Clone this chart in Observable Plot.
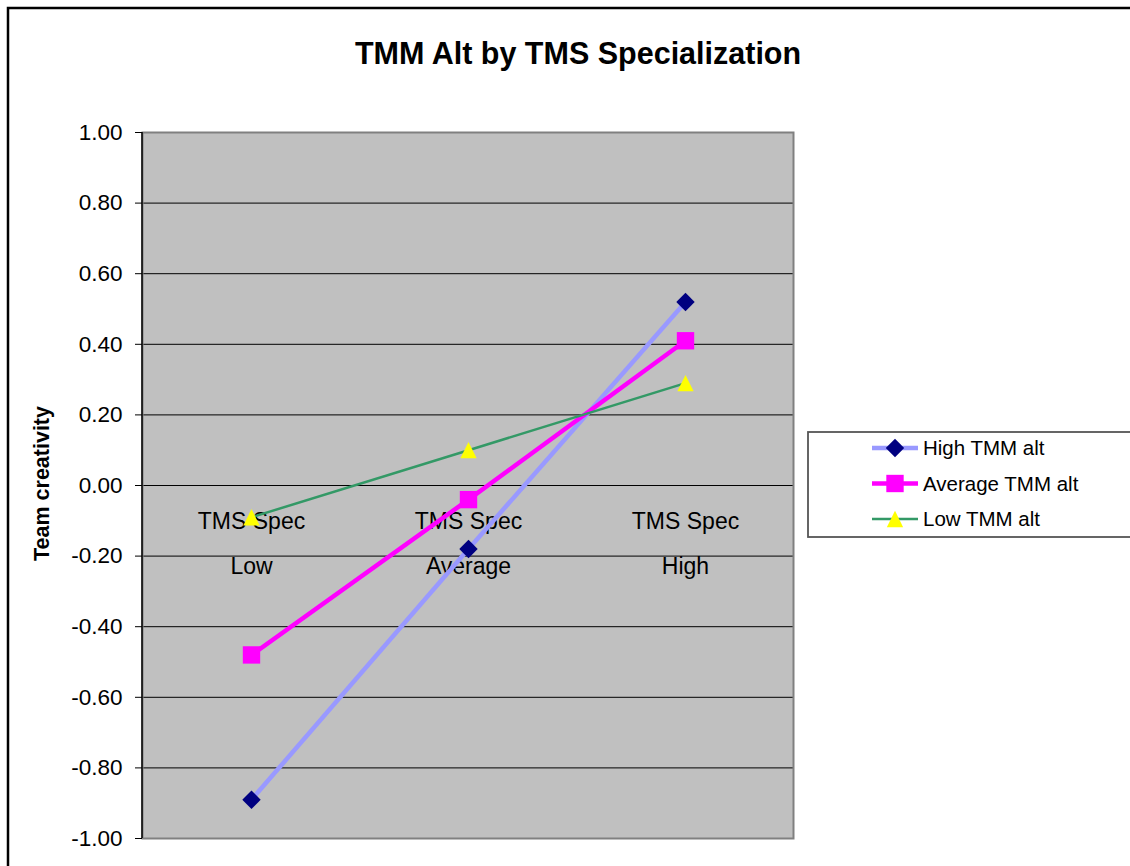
<!DOCTYPE html>
<html><head><meta charset="utf-8">
<script src="https://cdn.jsdelivr.net/npm/d3@7"></script>
<script src="https://cdn.jsdelivr.net/npm/@observablehq/plot@0.6"></script>
<style>body{margin:0;background:#fff}#chart svg{display:block}</style>
</head><body><div id="chart"></div>
<script>
// ---- data ----
const categories = ["Low", "Average", "High"];
const categoryPrefix = "TMS Spec";
const seriesNames = ["High TMM alt", "Average TMM alt", "Low TMM alt"];
const highValues = [-0.89, -0.18, 0.52];
const averageValues = [-0.48, -0.04, 0.41];
const lowValues = [-0.09, 0.10, 0.29];
const yTicks = [-1, -0.8, -0.6, -0.4, -0.2, 0, 0.2, 0.4, 0.6, 0.8, 1];
const titleText = "TMM Alt by TMS Specialization";
const yLabel = "Team creativity";

// ---- styles ----
const FONT = "'Liberation Sans', Arial, Helvetica, sans-serif";
const lineColors = ["#9999FF", "#FF00FF", "#339966"];
const lineWidths = [4.5, 4.5, 2.5];
const markerColors = ["#000080", "#FF00FF", "#FFFF00"];
const triangleSym = {draw(ctx, size) { const h = Math.sqrt(size) / 2; ctx.moveTo(0, -h); ctx.lineTo(h, h); ctx.lineTo(-h, h); ctx.closePath(); }};
const plotSymbols = ["diamond2", "square", triangleSym];
const d3Symbols = [d3.symbolDiamond2, d3.symbolSquare, triangleSym];
const markerR = [8.3, 9.8, 9.2];

const seriesValues = [highValues, averageValues, lowValues];
const table = seriesNames.flatMap((s, i) => categories.map((c, j) => ({series: s, cat: c, value: seriesValues[i][j], idx: i})));

const W = 1130, H = 866;
const mL = 142, mR = W - 793, mT = 132, mB = H - 838;
const fmt = d => (Math.abs(d) < 1e-9 ? 0 : d).toFixed(2);

const marks = [
  Plot.frame({fill: "#C0C0C0"}),
  Plot.ruleY(yTicks.filter(t => t > -1 && t < 1), {stroke: "#000", strokeWidth: 1}),
  Plot.frame({stroke: "#808080", strokeWidth: 2}),
  Plot.axisY({ticks: yTicks, tickFormat: fmt, tickSize: 7, tickPadding: 13, fontSize: 22.5, label: null}),
  Plot.text(categories, {x: d => d, y: () => 0, text: () => categoryPrefix, dy: 36, fontSize: 23, lineAnchor: "middle"}),
  Plot.text(categories, {x: d => d, y: () => 0, text: d => d, dy: 81, fontSize: 23, lineAnchor: "middle"}),
];
seriesNames.forEach((s, i) => {
  const rows = table.filter(r => r.idx === i);
  marks.push(Plot.line(rows, {x: "cat", y: "value", stroke: lineColors[i], strokeWidth: lineWidths[i]}));
});
seriesNames.forEach((s, i) => {
  const rows = table.filter(r => r.idx === i);
  marks.push(Plot.dot(rows, {x: "cat", y: "value", symbol: plotSymbols[i], fill: markerColors[i], stroke: "none", r: markerR[i]}));
});
marks.push(Plot.text([titleText], {frameAnchor: "top", dx: 110, dy: -78, lineAnchor: "middle", fontSize: 30.5, fontWeight: "bold"}));
marks.push(Plot.text([yLabel], {frameAnchor: "left", dx: -100, dy: -2, rotate: -90, textAnchor: "middle", lineAnchor: "middle", fontSize: 21.5, fontWeight: "bold"}));

const plot = Plot.plot({
  width: W, height: H,
  marginLeft: mL, marginRight: mR, marginTop: mT, marginBottom: mB,
  style: {fontFamily: FONT, fontSize: "21px", color: "#000", background: "#fff"},
  x: {type: "point", domain: categories, padding: 0.5, axis: null},
  y: {domain: [-1, 1], axis: null},
  marks
});
document.getElementById("chart").appendChild(plot);

// ---- decorations: axis line, outer border, legend ----
const svg = d3.select(plot);
svg.append("line").attr("x1", mL).attr("x2", mL).attr("y1", mT).attr("y2", H - mB).attr("stroke", "#000").attr("stroke-width", 1.5);
svg.append("rect").attr("x", 8).attr("y", 8).attr("width", W + 20).attr("height", H + 20)
  .attr("fill", "none").attr("stroke", "#000").attr("stroke-width", 2.5);

const lg = svg.append("g").attr("font-family", FONT).attr("font-size", 20.5).attr("text-anchor", "start");
lg.append("rect").attr("x", 808).attr("y", 432).attr("width", 340).attr("height", 105)
  .attr("fill", "#fff").attr("stroke", "#555").attr("stroke-width", 1.8);
seriesNames.forEach((s, i) => {
  const cy = 448 + i * 35.5;
  lg.append("line").attr("x1", 872).attr("x2", 918).attr("y1", cy).attr("y2", cy)
    .attr("stroke", lineColors[i]).attr("stroke-width", lineWidths[i]);
  lg.append("path").attr("transform", `translate(895,${cy})`)
    .attr("d", d3.symbol().type(d3Symbols[i]).size(markerR[i] * markerR[i] * Math.PI)())
    .attr("fill", markerColors[i]);
  lg.append("text").attr("x", 923).attr("y", cy).attr("dy", "0.36em").attr("text-anchor", "start").text(s);
});
</script>
</body></html>
